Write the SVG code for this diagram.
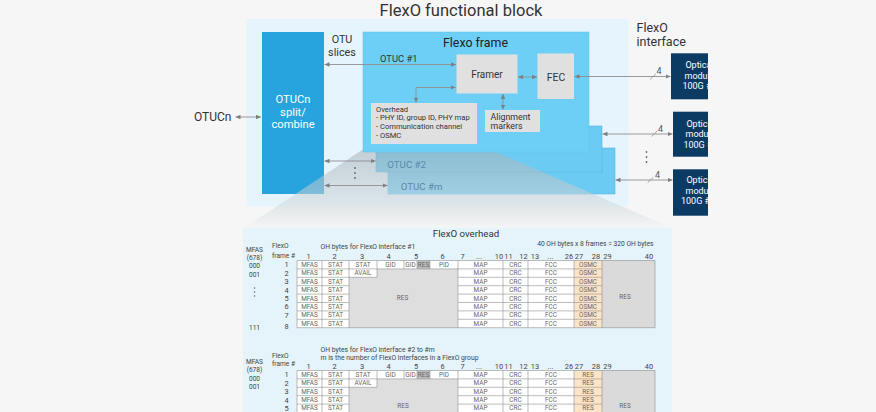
<svg xmlns="http://www.w3.org/2000/svg" width="876" height="412" viewBox="0 0 876 412">
<style>
text{font-family:Roboto,"Liberation Sans",Arial,sans-serif}
.t{fill:#333}
.wt{fill:#fff;text-anchor:middle}
.gbox{fill:#e0e0e0}
.lay{fill:#6ccbf2;stroke:#5ab6de;stroke-width:0.6}
.ln{stroke:#8e8e8e;stroke-width:0.9;fill:none;marker-start:url(#ah);marker-end:url(#ah)}
.tl{stroke:#8f8f8f;stroke-width:0.6;fill:none}
.ct{font-size:6.4px;fill:#666;text-anchor:middle}
.hn{font-size:7.4px;fill:#444;text-anchor:middle}
.sm{font-size:6.6px;fill:#444}
.smc{font-size:6.6px;fill:#444;text-anchor:middle}
.mod{fill:#0b3b63}
.mt{font-size:9px;fill:#fff;text-anchor:middle}
.four{font-size:9px;fill:#555}
.dot{fill:#666}
</style>
<defs>
<marker id="ah" viewBox="0 0 5 4.6" refX="5" refY="2.3" markerWidth="5" markerHeight="4.6" markerUnits="userSpaceOnUse" orient="auto-start-reverse"><path d="M0,0L5,2.3L0,4.6z" fill="#7f7f7f"/></marker>
<linearGradient id="proj" x1="0" y1="144" x2="0" y2="228" gradientUnits="userSpaceOnUse">
<stop offset="0" stop-color="#a2acb2" stop-opacity="0.55"/>
<stop offset="0.75" stop-color="#d4dadd" stop-opacity="0.55"/>
<stop offset="1" stop-color="#f2f5f7" stop-opacity="0.6"/>
</linearGradient>
<clipPath id="mc"><rect x="0" y="0" width="708" height="412"/></clipPath>
</defs>
<rect width="876" height="412" fill="#f6f6f6"/>
<text x="461" y="15.5" font-size="16.5" text-anchor="middle" class="t">FlexO functional block</text>
<rect id="functional-block" x="246.5" y="19" width="382" height="187.5" fill="#e6f5fd"/>

<g id="otucn"><text x="194" y="120.7" font-size="12" class="t">OTUCn</text></g>
<g id="split-combine">
<rect x="262" y="32" width="62" height="162" fill="#27a4de"/>
<text x="293" y="103.3" font-size="11.2" class="wt">OTUCn</text>
<text x="293" y="115.8" font-size="11.2" class="wt">split/</text>
<text x="293" y="128.3" font-size="11.2" class="wt">combine</text>
</g>
<g id="otu-slices-label">
<text x="342" y="43.3" font-size="10.8" text-anchor="middle" class="t">OTU</text>
<text x="342" y="56" font-size="10.8" text-anchor="middle" class="t">slices</text>
</g>
<g id="otuc-m"><rect x="388" y="148" width="227" height="46" class="lay"/></g>
<g id="otuc-2"><rect x="376" y="126" width="226" height="46" class="lay"/></g>
<polygon id="projection" points="371,144 477,144 672,228 244,228" fill="url(#proj)"/>
<text x="387.3" y="167.8" font-size="9.7" fill="#5a89aa">OTUC #2</text>
<text x="400.7" y="189.5" font-size="9.7" fill="#5a89aa">OTUC #m</text>
<g id="flexo-frame">
<rect x="363" y="32" width="226" height="120" fill="#6dcff6" stroke="#5cc0ea" stroke-width="0.5"/>
<text x="475.5" y="46.8" font-size="12.4" text-anchor="middle" fill="#222">Flexo frame</text>
<text x="380" y="61.7" font-size="9.4" class="t">OTUC #1</text>
</g>
<g id="framer"><rect x="456.5" y="54.5" width="61" height="39" class="gbox"/><text x="487" y="77.5" font-size="10" text-anchor="middle" class="t">Framer</text></g>
<g id="fec"><rect x="537.5" y="53.5" width="36.5" height="45.5" class="gbox"/><text x="556" y="80.5" font-size="10.4" text-anchor="middle" class="t">FEC</text></g>
<g id="overhead"><rect x="371" y="103" width="106" height="41" class="gbox"/>
<text font-size="7.6" class="t"><tspan x="376" y="111.6">Overhead</tspan><tspan x="376" y="120.2">- PHY ID, group ID, PHY map</tspan><tspan x="376" y="128.8">- Communication channel</tspan><tspan x="376" y="137.6">- OSMC</tspan></text></g>
<g id="alignment-markers"><rect x="485" y="110" width="55" height="22" class="gbox"/>
<text font-size="8.8" class="t"><tspan x="490.5" y="119.5">Alignment</tspan><tspan x="490.5" y="129">markers</tspan></text></g>

<g id="flexo-interface-label"><text font-size="12.5" class="t"><tspan x="636.5" y="31.7">FlexO</tspan><tspan x="636.5" y="46">interface</tspan></text></g>

<g id="modules" clip-path="url(#mc)">
<g id="module-1"><rect x="671" y="53.3" width="60" height="46" class="mod"/><text class="mt"><tspan x="699.5" y="68.3">Optical</tspan><tspan x="699.5" y="78.8">module</tspan><tspan x="699.5" y="89.3">100G #1</tspan></text></g>
<g id="module-2"><rect x="673" y="111.7" width="60" height="45" class="mod"/><text class="mt"><tspan x="700.5" y="126.5">Optical</tspan><tspan x="700.5" y="137">module</tspan><tspan x="700.5" y="147.5">100G #2</tspan></text></g>
<g id="module-m"><rect x="673" y="169.3" width="60" height="46.4" class="mod"/><text class="mt"><tspan x="700.5" y="183.3">Optical</tspan><tspan x="700.5" y="193.8">module</tspan><tspan x="699.5" y="204.3">100G #m</tspan></text></g>
</g>

<g id="connectors">
<line class="ln" x1="235.5" y1="117" x2="261" y2="117"/>
<line class="ln" x1="324.5" y1="64.5" x2="456" y2="64.5"/>
<line class="ln" x1="324.5" y1="161" x2="375.5" y2="161"/>
<line class="ln" x1="324.5" y1="185.5" x2="387.5" y2="185.5"/>
<path class="ln" d="M455.5,87.5H416V102.5"/>
<line class="ln" x1="503" y1="94" x2="503" y2="109.5"/>
<line class="ln" x1="518" y1="77" x2="537" y2="77"/>
<line class="ln" x1="574.5" y1="76.5" x2="670.5" y2="76.5"/>
<line class="ln" x1="602.5" y1="134" x2="672.5" y2="134"/>
<line class="ln" x1="615.5" y1="180" x2="672.5" y2="180"/>
<g stroke="#8e8e8e" stroke-width="0.8">
<line x1="650" y1="79.5" x2="656" y2="73.8"/>
<line x1="651.5" y1="136.5" x2="657.3" y2="130.8"/>
<line x1="647.7" y1="182.7" x2="653.3" y2="177.3"/>
</g>
<text x="656.5" y="74" class="four">4</text>
<text x="658" y="131.7" class="four">4</text>
<text x="655" y="178.3" class="four">4</text>
<circle class="dot" cx="355" cy="168" r="0.9"/><circle class="dot" cx="355" cy="173" r="0.9"/><circle class="dot" cx="355" cy="178" r="0.9"/>
<circle class="dot" cx="646.5" cy="152" r="0.9"/><circle class="dot" cx="646.5" cy="157" r="0.9"/><circle class="dot" cx="646.5" cy="162" r="0.9"/>
</g>

<g id="flexo-overhead">
<rect x="243" y="228" width="429" height="190" fill="#e5f3fb"/>
<text x="466" y="236.5" font-size="9.7" text-anchor="middle" class="t">FlexO overhead</text>
<text x="653.5" y="245.5" font-size="6.7" text-anchor="end" fill="#444">40 OH bytes x 8 frames = 320 OH bytes</text>
</g>

<g id="oh-table-1">
<text x="320.5" y="248.5" font-size="6.8" fill="#444">OH bytes for FlexO interface #1</text>
<text class="sm"><tspan x="272" y="248.3">FlexO</tspan><tspan x="272" y="257.7">frame #</tspan></text>
<text class="smc"><tspan x="254.5" y="251.5">MFAS</tspan><tspan x="254.5" y="259.8">(678)</tspan><tspan x="254.5" y="268.3">000</tspan><tspan x="254.5" y="277">001</tspan><tspan x="254.5" y="329.5">111</tspan></text>
<circle class="dot" cx="254.5" cy="288" r="0.8"/><circle class="dot" cx="254.5" cy="292" r="0.8"/><circle class="dot" cx="254.5" cy="296" r="0.8"/>
<text class="hn"><tspan x="286.5" y="267.4">1</tspan><tspan x="286.5" y="275.8">2</tspan><tspan x="286.5" y="284.2">3</tspan><tspan x="286.5" y="292.6">4</tspan><tspan x="286.5" y="301">5</tspan><tspan x="286.5" y="309.4">6</tspan><tspan x="286.5" y="317.8">7</tspan><tspan x="286.5" y="328.5">8</tspan></text>
<text class="hn"><tspan x="308.5" y="258.5">1</tspan><tspan x="334.5" y="258.5">2</tspan><tspan x="362" y="258.5">3</tspan><tspan x="388.5" y="258.5">4</tspan><tspan x="416" y="258.5">5</tspan><tspan x="442.5" y="258.5">6</tspan><tspan x="462.5" y="258.5">7</tspan><tspan x="479" y="258.5">...</tspan><tspan x="499" y="258.5">10</tspan><tspan x="508.5" y="258.5">11</tspan><tspan x="523.5" y="258.5">12</tspan><tspan x="535" y="258.5">13</tspan><tspan x="550.5" y="258.5">...</tspan><tspan x="569" y="258.5">26</tspan><tspan x="579" y="258.5">27</tspan><tspan x="596" y="258.5">28</tspan><tspan x="607.5" y="258.5">29</tspan><tspan x="649" y="258.5">40</tspan></text>
<rect x="297" y="260.5" width="52" height="67.2" fill="#fff"/>
<rect x="349" y="260.5" width="109" height="8.4" fill="#fff"/>
<rect x="349" y="268.9" width="28" height="8.4" fill="#fff"/>
<rect x="417" y="260.5" width="13" height="8.4" fill="#bdbdbd"/>
<path d="M349,277.3H377V268.9H458V327.7H349Z" fill="#dedede"/>
<rect x="458" y="260.5" width="116" height="67.2" fill="#fff"/>
<rect x="574" y="260.5" width="28" height="67.2" fill="#fde4c6"/>
<rect x="602" y="260.5" width="53" height="67.2" fill="#dadada"/>
<path class="tl" d="M297,260.5H655V327.7H297Z M322,260.5V327.7 M349,260.5V327.7 M377,260.5V277.3 M404,260.5V268.9 M417,260.5V268.9 M430,260.5V268.9 M458,260.5V327.7 M503,260.5V327.7 M528,260.5V327.7 M574,260.5V327.7 M602,260.5V327.7 M297,268.9H602 M297,277.3H377 M458,277.3H602 M297,285.7H349 M458,285.7H602 M297,294.1H349 M458,294.1H602 M297,302.5H349 M458,302.5H602 M297,310.9H349 M458,310.9H602 M297,319.3H349 M458,319.3H602"/>
<text class="ct"><tspan x="309.5" y="267">MFAS</tspan><tspan x="309.5" y="275.4">MFAS</tspan><tspan x="309.5" y="283.8">MFAS</tspan><tspan x="309.5" y="292.2">MFAS</tspan><tspan x="309.5" y="300.6">MFAS</tspan><tspan x="309.5" y="309">MFAS</tspan><tspan x="309.5" y="317.4">MFAS</tspan><tspan x="309.5" y="325.8">MFAS</tspan></text>
<text class="ct"><tspan x="335.5" y="267">STAT</tspan><tspan x="335.5" y="275.4">STAT</tspan><tspan x="335.5" y="283.8">STAT</tspan><tspan x="335.5" y="292.2">STAT</tspan><tspan x="335.5" y="300.6">STAT</tspan><tspan x="335.5" y="309">STAT</tspan><tspan x="335.5" y="317.4">STAT</tspan><tspan x="335.5" y="325.8">STAT</tspan></text>
<text class="ct"><tspan x="363" y="267">STAT</tspan><tspan x="363" y="275.4">AVAIL</tspan><tspan x="390.5" y="267">GID</tspan><tspan x="410.5" y="267">GID</tspan><tspan x="423.5" y="267">RES</tspan><tspan x="444" y="267">PID</tspan></text>
<text class="ct"><tspan x="480.5" y="267">MAP</tspan><tspan x="480.5" y="275.4">MAP</tspan><tspan x="480.5" y="283.8">MAP</tspan><tspan x="480.5" y="292.2">MAP</tspan><tspan x="480.5" y="300.6">MAP</tspan><tspan x="480.5" y="309">MAP</tspan><tspan x="480.5" y="317.4">MAP</tspan><tspan x="480.5" y="325.8">MAP</tspan></text>
<text class="ct"><tspan x="515.5" y="267">CRC</tspan><tspan x="515.5" y="275.4">CRC</tspan><tspan x="515.5" y="283.8">CRC</tspan><tspan x="515.5" y="292.2">CRC</tspan><tspan x="515.5" y="300.6">CRC</tspan><tspan x="515.5" y="309">CRC</tspan><tspan x="515.5" y="317.4">CRC</tspan><tspan x="515.5" y="325.8">CRC</tspan></text>
<text class="ct"><tspan x="551" y="267">FCC</tspan><tspan x="551" y="275.4">FCC</tspan><tspan x="551" y="283.8">FCC</tspan><tspan x="551" y="292.2">FCC</tspan><tspan x="551" y="300.6">FCC</tspan><tspan x="551" y="309">FCC</tspan><tspan x="551" y="317.4">FCC</tspan><tspan x="551" y="325.8">FCC</tspan></text>
<text class="ct"><tspan x="588" y="267">OSMC</tspan><tspan x="588" y="275.4">OSMC</tspan><tspan x="588" y="283.8">OSMC</tspan><tspan x="588" y="292.2">OSMC</tspan><tspan x="588" y="300.6">OSMC</tspan><tspan x="588" y="309">OSMC</tspan><tspan x="588" y="317.4">OSMC</tspan><tspan x="588" y="325.8">OSMC</tspan></text>
<text class="ct"><tspan x="402.5" y="300">RES</tspan><tspan x="625" y="299.2">RES</tspan></text>
</g>

<g id="oh-table-2">
<text font-size="6.8" fill="#444"><tspan x="320.5" y="351.5">OH bytes for FlexO interface #2 to #m</tspan><tspan x="320.5" y="360">m is the number of FlexO interfaces in a FlexO group</tspan></text>
<text class="sm"><tspan x="272" y="357.5">FlexO</tspan><tspan x="272" y="366.2">frame #</tspan></text>
<text class="smc"><tspan x="254.5" y="364">MFAS</tspan><tspan x="254.5" y="372.3">(678)</tspan><tspan x="254.5" y="380.8">000</tspan><tspan x="254.5" y="389.2">001</tspan></text>
<text class="hn"><tspan x="286.5" y="377.4">1</tspan><tspan x="286.5" y="385.8">2</tspan><tspan x="286.5" y="394.2">3</tspan><tspan x="286.5" y="402.6">4</tspan><tspan x="286.5" y="410.5">5</tspan></text>
<g transform="translate(0,110)">
<text class="hn"><tspan x="308.5" y="258.5">1</tspan><tspan x="334.5" y="258.5">2</tspan><tspan x="362" y="258.5">3</tspan><tspan x="388.5" y="258.5">4</tspan><tspan x="416" y="258.5">5</tspan><tspan x="442.5" y="258.5">6</tspan><tspan x="462.5" y="258.5">7</tspan><tspan x="479" y="258.5">...</tspan><tspan x="499" y="258.5">10</tspan><tspan x="508.5" y="258.5">11</tspan><tspan x="523.5" y="258.5">12</tspan><tspan x="535" y="258.5">13</tspan><tspan x="550.5" y="258.5">...</tspan><tspan x="569" y="258.5">26</tspan><tspan x="579" y="258.5">27</tspan><tspan x="596" y="258.5">28</tspan><tspan x="607.5" y="258.5">29</tspan><tspan x="649" y="258.5">40</tspan></text>
<rect x="297" y="260.5" width="52" height="67.2" fill="#fff"/>
<rect x="349" y="260.5" width="109" height="8.4" fill="#fff"/>
<rect x="349" y="268.9" width="28" height="8.4" fill="#fff"/>
<rect x="417" y="260.5" width="13" height="8.4" fill="#bdbdbd"/>
<path d="M349,277.3H377V268.9H458V327.7H349Z" fill="#dedede"/>
<rect x="458" y="260.5" width="116" height="67.2" fill="#fff"/>
<rect x="574" y="260.5" width="28" height="67.2" fill="#fde4c6"/>
<rect x="602" y="260.5" width="53" height="67.2" fill="#dadada"/>
<path class="tl" d="M297,260.5H655V327.7H297Z M322,260.5V327.7 M349,260.5V327.7 M377,260.5V277.3 M404,260.5V268.9 M417,260.5V268.9 M430,260.5V268.9 M458,260.5V327.7 M503,260.5V327.7 M528,260.5V327.7 M574,260.5V327.7 M602,260.5V327.7 M297,268.9H602 M297,277.3H377 M458,277.3H602 M297,285.7H349 M458,285.7H602 M297,294.1H349 M458,294.1H602 M297,302.5H349 M458,302.5H602"/>
<text class="ct"><tspan x="309.5" y="267">MFAS</tspan><tspan x="309.5" y="275.4">MFAS</tspan><tspan x="309.5" y="283.8">MFAS</tspan><tspan x="309.5" y="292.2">MFAS</tspan><tspan x="309.5" y="300.3">MFAS</tspan></text>
<text class="ct"><tspan x="335.5" y="267">STAT</tspan><tspan x="335.5" y="275.4">STAT</tspan><tspan x="335.5" y="283.8">STAT</tspan><tspan x="335.5" y="292.2">STAT</tspan><tspan x="335.5" y="300.3">STAT</tspan></text>
<text class="ct"><tspan x="363" y="267">STAT</tspan><tspan x="363" y="275.4">AVAIL</tspan><tspan x="390.5" y="267">GID</tspan><tspan x="410.5" y="267">GID</tspan><tspan x="423.5" y="267">RES</tspan><tspan x="444" y="267">PID</tspan></text>
<text class="ct"><tspan x="480.5" y="267">MAP</tspan><tspan x="480.5" y="275.4">MAP</tspan><tspan x="480.5" y="283.8">MAP</tspan><tspan x="480.5" y="292.2">MAP</tspan><tspan x="480.5" y="300.3">MAP</tspan></text>
<text class="ct"><tspan x="515.5" y="267">CRC</tspan><tspan x="515.5" y="275.4">CRC</tspan><tspan x="515.5" y="283.8">CRC</tspan><tspan x="515.5" y="292.2">CRC</tspan><tspan x="515.5" y="300.3">CRC</tspan></text>
<text class="ct"><tspan x="551" y="267">FCC</tspan><tspan x="551" y="275.4">FCC</tspan><tspan x="551" y="283.8">FCC</tspan><tspan x="551" y="292.2">FCC</tspan><tspan x="551" y="300.3">FCC</tspan></text>
<text class="ct"><tspan x="588" y="267">RES</tspan><tspan x="588" y="275.4">RES</tspan><tspan x="588" y="283.8">RES</tspan><tspan x="588" y="292.2">RES</tspan><tspan x="588" y="300.3">RES</tspan></text>
<text class="ct"><tspan x="403" y="298.3">RES</tspan><tspan x="625" y="298.3">RES</tspan></text>
</g>
</g>
</svg>
